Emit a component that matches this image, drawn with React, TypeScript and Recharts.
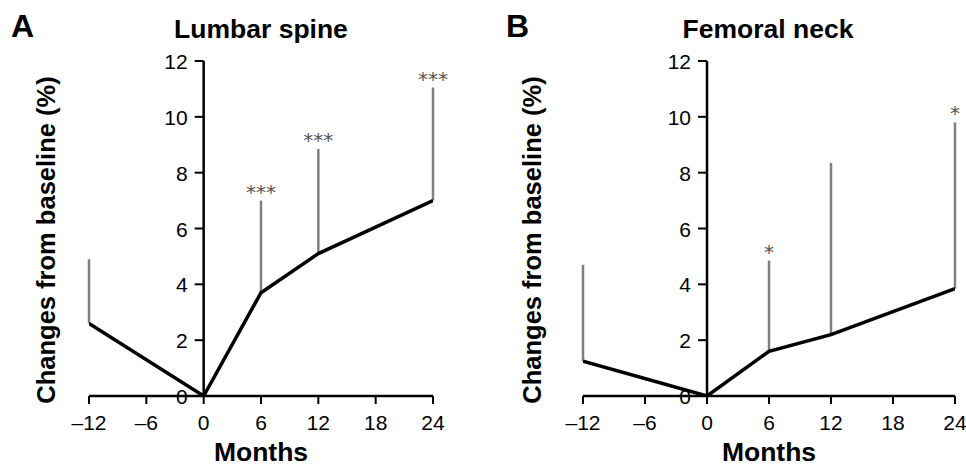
import React from 'react';
import { ComposedChart, Line, XAxis, YAxis, ErrorBar, ReferenceLine, ReferenceDot } from 'recharts';

const months = [-12, 0, 6, 12, 24];
const xTicks = [-12, -6, 0, 6, 12, 18, 24];
const yTicks = [0, 2, 4, 6, 8, 10, 12];

const lumbarMean = [2.6, 0, 3.7, 5.1, 7.0];
const lumbarUpper = [4.9, 0, 7.0, 8.85, 11.05];
const lumbarStars = ['', '', '***', '***', '***'];

const femoralMean = [1.25, 0, 1.6, 2.2, 3.85];
const femoralUpper = [4.7, 0, 4.85, 8.35, 9.8];
const femoralStars = ['', '', '*', '', '*'];

const FONT = '"Liberation Sans", Arial, Helvetica, sans-serif';

function buildRows(mean: number[], upper: number[]) {
  return months.map((m, i) => ({
    month: m,
    value: mean[i],
    err: [0, Math.max(0, upper[i] - mean[i])],
  }));
}

const fmtX = (v: number) => (v < 0 ? '\u2013' + Math.abs(v) : String(v));

interface PanelProps {
  left: number;
  marginLeft: number;
  marginRight: number;
  mean: number[];
  upper: number[];
  stars: string[];
}

function Panel({ left, marginLeft, marginRight, mean, upper, stars }: PanelProps) {
  const rows = buildRows(mean, upper);
  return (
    <div style={{ position: 'absolute', left, top: 0 }}>
      <ComposedChart
        width={483}
        height={466}
        data={rows}
        margin={{ top: 61, right: marginRight, bottom: 40, left: marginLeft }}
      >
        <XAxis
          dataKey="month"
          type="number"
          domain={[-12, 24]}
          ticks={xTicks}
          interval={0}
          allowDataOverflow
          height={30}
          axisLine={{ stroke: '#000', strokeWidth: 2.5 }}
          tickLine={{ stroke: '#000', strokeWidth: 2 }}
          tickSize={8}
          tickMargin={11}
          tick={{ fill: '#000', fontSize: 21, fontFamily: FONT }}
          tickFormatter={fmtX}
        />
        <YAxis hide type="number" domain={[0, 12]} width={0} allowDataOverflow />
        <ReferenceLine x={0} stroke="#000" strokeWidth={2.5} />
        {yTicks.map((t) => (
          <ReferenceDot
            key={'yt' + t}
            x={0}
            y={t}
            r={0}
            ifOverflow="visible"
            shape={(p: any) => (
              <g>
                <line x1={p.cx - 9} x2={p.cx} y1={p.cy} y2={p.cy} stroke="#000" strokeWidth={2} />
                <text
                  x={p.cx - 16}
                  y={p.cy + 8}
                  textAnchor="end"
                  fill="#000"
                  fontSize={21}
                  fontFamily={FONT}
                >
                  {t}
                </text>
              </g>
            )}
          />
        ))}
        <Line
          dataKey="value"
          type="linear"
          stroke="#000"
          strokeWidth={3.5}
          dot={false}
          isAnimationActive={false}
        >
          <ErrorBar
            dataKey="err"
            width={0}
            stroke="#808080"
            strokeWidth={2.5}
            direction="y"
            isAnimationActive={false}
          />
        </Line>
        {months.map((m, i) =>
          stars[i] ? (
            <ReferenceDot
              key={'st' + m}
              x={m}
              y={upper[i]}
              r={0}
              ifOverflow="visible"
              shape={(p: any) => (
                <text
                  x={p.cx}
                  y={p.cy - 2}
                  textAnchor="middle"
                  fill="#555"
                  fontSize={20}
                  fontFamily='"DejaVu Sans", sans-serif'
                >
                  {stars[i]}
                </text>
              )}
            />
          ) : null
        )}
      </ComposedChart>
    </div>
  );
}

export default function App() {
  return (
    <div style={{ position: 'absolute', left: 0, top: 0, width: 966, height: 466, background: '#fff' }}>
      <Panel left={0} marginLeft={89} marginRight={50} mean={lumbarMean} upper={lumbarUpper} stars={lumbarStars} />
      <Panel left={483} marginLeft={100} marginRight={11} mean={femoralMean} upper={femoralUpper} stars={femoralStars} />
      <svg
        width={966}
        height={466}
        style={{ position: 'absolute', left: 0, top: 0, pointerEvents: 'none' }}
        fontFamily={FONT}
        fontWeight="bold"
        fill="#000"
      >
        <text x={11} y={37} fontSize={32}>A</text>
        <text x={506} y={37} fontSize={32}>B</text>
        <text x={261} y={38} fontSize={26.5} textAnchor="middle">Lumbar spine</text>
        <text x={768} y={38} fontSize={26.5} textAnchor="middle">Femoral neck</text>
        <text x={261} y={461} fontSize={26.5} textAnchor="middle">Months</text>
        <text x={769} y={461} fontSize={26.5} textAnchor="middle">Months</text>
        <text x={55} y={240} fontSize={25.5} textAnchor="middle" transform="rotate(-90 55 240)">
          Changes from baseline (%)
        </text>
        <text x={541} y={240} fontSize={25.5} textAnchor="middle" transform="rotate(-90 541 240)">
          Changes from baseline (%)
        </text>
      </svg>
    </div>
  );
}
